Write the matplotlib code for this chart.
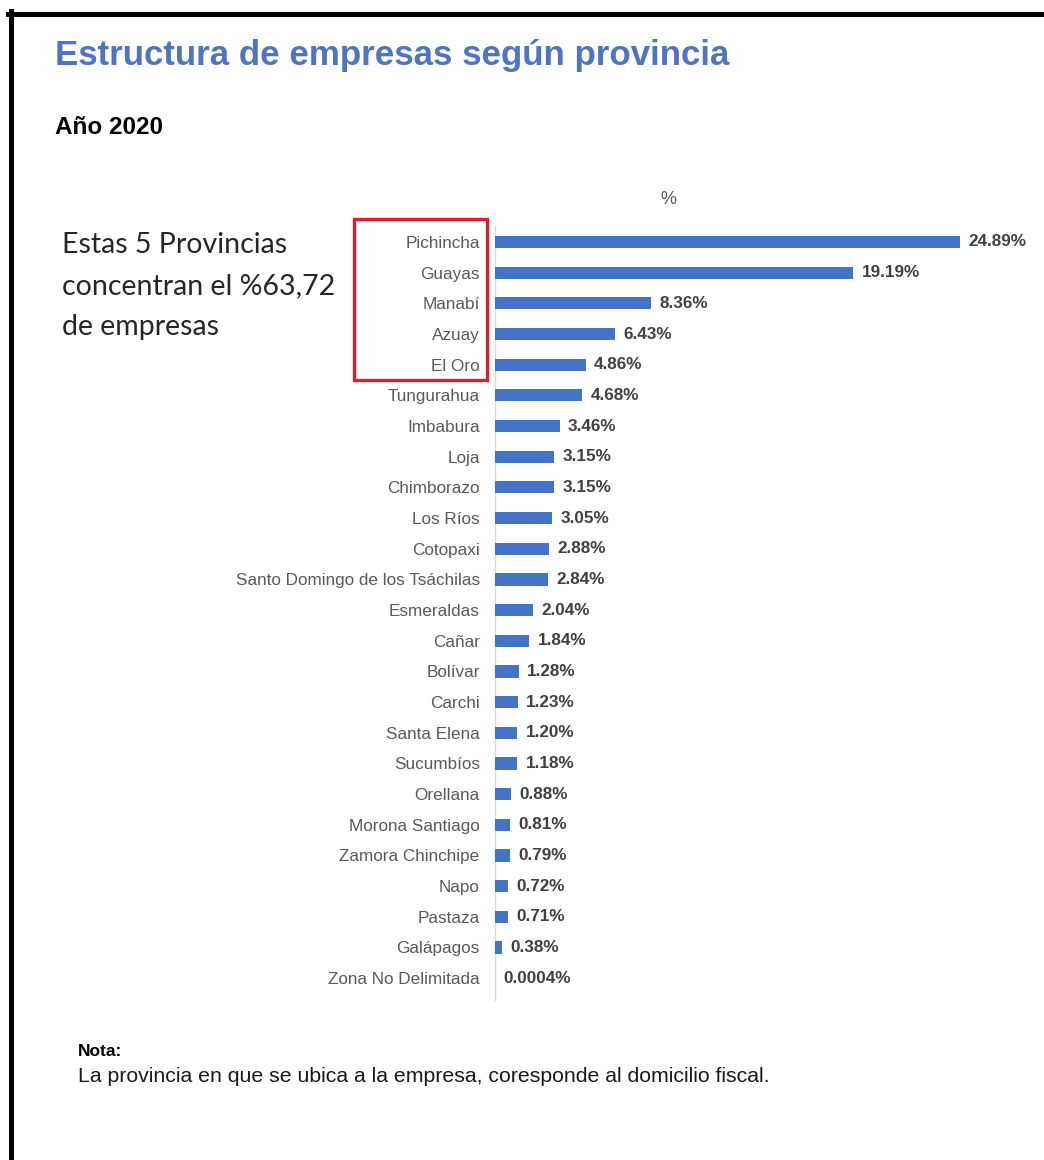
import matplotlib
matplotlib.use("Agg")
import matplotlib.pyplot as plt
from matplotlib.patches import Rectangle
from matplotlib.lines import Line2D

provincias = ["Pichincha", "Guayas", "Manabí", "Azuay", "El Oro", "Tungurahua", "Imbabura",
              "Loja", "Chimborazo", "Los Ríos", "Cotopaxi", "Santo Domingo de los Tsáchilas",
              "Esmeraldas", "Cañar", "Bolívar", "Carchi", "Santa Elena", "Sucumbíos",
              "Orellana", "Morona Santiago", "Zamora Chinchipe", "Napo", "Pastaza",
              "Galápagos", "Zona No Delimitada"]
valores = [24.89, 19.19, 8.36, 6.43, 4.86, 4.68, 3.46, 3.15, 3.15, 3.05, 2.88, 2.84,
           2.04, 1.84, 1.28, 1.23, 1.20, 1.18, 0.88, 0.81, 0.79, 0.72, 0.71, 0.38, 0.0004]
etiquetas = ["24.89%", "19.19%", "8.36%", "6.43%", "4.86%", "4.68%", "3.46%", "3.15%",
             "3.15%", "3.05%", "2.88%", "2.84%", "2.04%", "1.84%", "1.28%", "1.23%",
             "1.20%", "1.18%", "0.88%", "0.81%", "0.79%", "0.72%", "0.71%", "0.38%",
             "0.0004%"]

W, H = 1044, 1160
plt.rcParams['font.family'] = ['Liberation Sans', 'DejaVu Sans']
fig = plt.figure(figsize=(W / 100, H / 100), dpi=100)
fig.patch.set_facecolor("white")

def fx(x):
    return x / W

def fy(y):
    return 1 - y / H

# frame lines (top and left)
fig.add_artist(Line2D([fx(8), fx(W + 5)], [fy(13.5), fy(13.5)], color="black", lw=3.6,
                      transform=fig.transFigure))
fig.add_artist(Line2D([fx(10.5), fx(10.5)], [fy(11), fy(H + 5)], color="black", lw=3.6,
                      transform=fig.transFigure))

# axes
ax_left, ax_right = 495, 1044
ax_top, ax_bottom = 226, 1000
ax = fig.add_axes([fx(ax_left), fy(ax_bottom), (ax_right - ax_left) / W, (ax_bottom - ax_top) / H])
n = len(provincias)
pos = list(range(n))
ax.barh(pos, valores, height=0.4, color="#4472C4", zorder=3)
px_per_unit = 18.68
ax.set_xlim(0, (ax_right - ax_left) / px_per_unit)
row = 30.67
first = 242
ax.set_ylim((ax_bottom - first) / row, -(first - ax_top) / row)
ax.set_yticks(pos)
ax.set_yticklabels(provincias, fontsize=12.3, color="#595959")
ax.tick_params(axis="y", length=0, pad=11)
ax.set_xticks([])
for s in ["top", "right", "bottom"]:
    ax.spines[s].set_visible(False)
ax.spines["left"].set_color("#d9d9d9")
ax.spines["left"].set_linewidth(1.0)
ax.patch.set_alpha(0)

for p, v, t in zip(pos, valores, etiquetas):
    ax.annotate(t, (v, p), xytext=(6, 0), textcoords="offset points", va="center", ha="left",
                fontsize=12.3, fontweight="bold", color="#404040")

# titles
fig.text(fx(55), fy(56), "Estructura de empresas según provincia", fontsize=25.1, fontweight="bold",
         color="#4F74C0", va="center", ha="left")
fig.text(fx(55), fy(127), "Año 2020", fontsize=17.5, fontweight="bold", color="black",
         va="center", ha="left")
fig.text(fx(668), fy(199), "%", fontsize=13, color="#595959", va="center", ha="center")

# annotation
ann_lines = ["Estas 5 Provincias", "concentran el %63,72", "de empresas"]
for yy, line in zip([245, 286, 327], ann_lines):
    fig.text(fx(62), fy(yy), line, fontsize=20.5, color="#262626", va="center", ha="left",
             family=["Lato", "DejaVu Sans"])

# red box
fig.add_artist(Rectangle((fx(354), fy(380)), (487 - 354) / W, (380 - 219) / H, fill=False,
                         edgecolor="#D9202A", lw=2.4, transform=fig.transFigure))

# note
fig.text(fx(78), fy(1052), "Nota:", fontsize=12.5, fontweight="bold", color="black",
         va="center", ha="left")
fig.text(fx(78), fy(1076), "La provincia en que se ubica a la empresa, coresponde al domicilio fiscal.",
         fontsize=15.3, color="#1a1a1a", va="center", ha="left")

fig.savefig("out.png", dpi=100, facecolor="white")
